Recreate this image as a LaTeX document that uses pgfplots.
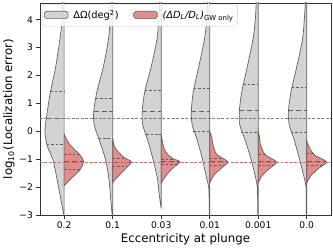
\documentclass[border=0pt]{standalone}
\usepackage{fontspec}
\setmainfont{DejaVu Sans}
\usepackage{pgfplots}
\pgfplotsset{compat=1.18}
\definecolor{vgrey}{RGB}{211,211,211}
\definecolor{vred}{RGB}{226,141,141}
\definecolor{edge}{RGB}{95,95,95}
\begin{document}
\begin{tikzpicture}
\begin{axis}[
 scale only axis, width=295bp, height=215bp,
 xmin=-0.5, xmax=5.5, ymin=-3, ymax=4.6,
 xtick={0,...,5}, xticklabels={0.2,0.1,0.03,0.01,0.001,0.0},
 ytick={-3,...,4}, yticklabels={−3,−2,−1,0,1,2,3,4},
 tick align=outside, tick pos=left, major tick length=3.5bp,
 tick style={black!80, line width=0.6pt},
 ticklabel style={font=\fontsize{9.3}{10}\selectfont},
 xlabel={Eccentricity at plunge},
 ylabel={log\textsubscript{10}(Localization error)},
 label style={font=\fontsize{12}{14}\selectfont},
 xlabel style={yshift=2bp},
 ylabel style={yshift=-2bp},
 axis line style={line width=0.6pt, black!80},
 no markers,
 legend columns=2,
 legend cell align=left,
 legend style={at={(0.007,0.995)}, anchor=north west, draw=black!20, rounded corners=2pt,
   fill=white, fill opacity=0.8, text opacity=1, draw opacity=1,
   font=\fontsize{10}{12}\selectfont, inner xsep=2bp, inner ysep=4bp,
   /tikz/every odd column/.append style={column sep=3bp},
   /tikz/every even column/.append style={column sep=13bp}},
]
% legend entries
\addlegendimage{legend image code/.code={\draw[fill=vgrey,draw=edge,line width=0.6pt,fill opacity=1] (0bp,-3.5bp) rectangle (24bp,4bp);}}
\addlegendentry{ΔΩ(deg\textsuperscript{2})}
\addlegendimage{legend image code/.code={\draw[fill=vred,draw=edge,line width=0.6pt,fill opacity=1] (0bp,-3.5bp) rectangle (24bp,4bp);}}
\addlegendentry{{\itshape (ΔD\textsubscript{L}/D\textsubscript{L})}\textsubscript{GW only}}

% grey halves
\addplot[fill=vgrey, draw=edge, line width=0.7pt, smooth, forget plot] coordinates {(0,5.0) (-0.025,5.0) (-0.030,4.6) (-0.041,4.0) (-0.087,3.3) (-0.176,2.3) (-0.284,1.4) (-0.365,0.5) (-0.396,0.0) (-0.352,-0.5) (-0.235,-1.0) (-0.17,-1.5) (-0.115,-2.0) (-0.06,-2.5) (-0.006,-3.0) (0,-3.05)} -- cycle;
\addplot[fill=vgrey, draw=edge, line width=0.7pt, smooth, forget plot] coordinates {(1,5.0) (0.975,5.0) (0.970,4.6) (0.949,4.0) (0.913,3.3) (0.811,2.34) (0.675,1.42) (0.609,0.7) (0.621,0.22) (0.710,-0.24) (0.844,-0.95) (0.919,-1.65) (0.959,-2.4) (0.990,-3.0) (1,-3.05)} -- cycle;
\addplot[fill=vgrey, draw=edge, line width=0.7pt, smooth, forget plot] coordinates {(2,5.0) (1.975,5.0) (1.970,4.6) (1.949,4.0) (1.913,3.3) (1.797,2.34) (1.661,1.42) (1.609,0.7) (1.621,0.22) (1.710,-0.24) (1.824,-0.95) (1.919,-1.65) (1.959,-2.25) (1.994,-2.7) (2,-2.72)} -- cycle;
\addplot[fill=vgrey, draw=edge, line width=0.7pt, smooth, forget plot] coordinates {(3,5.0) (2.97,5.0) (2.959,4.6) (2.939,4.0) (2.892,3.3) (2.777,2.34) (2.661,1.42) (2.621,0.7) (2.641,0.22) (2.730,-0.24) (2.844,-0.95) (2.933,-1.65) (2.980,-2.0) (2.988,-2.5) (2.990,-3.0) (3,-3.05)} -- cycle;
\addplot[fill=vgrey, draw=edge, line width=0.7pt, smooth, forget plot] coordinates {(4,5.0) (3.97,5.0) (3.959,4.6) (3.939,4.0) (3.892,3.3) (3.777,2.34) (3.661,1.42) (3.609,0.7) (3.621,0.22) (3.716,-0.24) (3.844,-0.95) (3.945,-1.65) (3.980,-2.0) (3.988,-2.5) (3.990,-3.0) (4,-3.05)} -- cycle;
\addplot[fill=vgrey, draw=edge, line width=0.7pt, smooth, forget plot] coordinates {(5,5.0) (4.975,5.0) (4.970,4.6) (4.949,4.0) (4.913,3.3) (4.797,2.34) (4.675,1.42) (4.621,0.7) (4.641,0.22) (4.730,-0.24) (4.844,-0.95) (4.945,-1.65) (4.986,-2.0) (4.990,-2.5) (4.990,-3.0) (5,-3.05)} -- cycle;

% red halves
\addplot[fill=vred, draw=edge, line width=0.7pt, smooth, forget plot] coordinates {(0,-0.1) (0.04,-0.25) (0.115,-0.47) (0.318,-0.83) (0.40,-1.07) (0.318,-1.4) (0.136,-1.7) (0.04,-1.88) (0,-1.95)} -- cycle;
\addplot[fill=vred, draw=edge, line width=0.7pt, smooth, forget plot] coordinates {(1,-0.24) (1.03,-0.5) (1.095,-0.7) (1.249,-0.95) (1.385,-1.09) (1.284,-1.3) (1.148,-1.55) (1.026,-1.77) (1,-1.85)} -- cycle;
\addplot[fill=vred, draw=edge, line width=0.7pt, smooth, forget plot] coordinates {(2,-0.12) (2.03,-0.4) (2.081,-0.7) (2.217,-0.95) (2.385,-1.09) (2.249,-1.3) (2.116,-1.55) (2.026,-1.77) (2,-1.85)} -- cycle;
\addplot[fill=vred, draw=edge, line width=0.7pt, smooth, forget plot] coordinates {(3,0.0) (3.047,-0.24) (3.067,-0.48) (3.148,-0.83) (3.371,-1.09) (3.249,-1.3) (3.095,-1.55) (3.020,-1.77) (3,-1.85)} -- cycle;
\addplot[fill=vred, draw=edge, line width=0.7pt, smooth, forget plot] coordinates {(4,0.0) (4.03,-0.24) (4.047,-0.48) (4.142,-0.83) (4.375,-1.09) (4.254,-1.3) (4.095,-1.55) (4.020,-1.77) (4,-1.85)} -- cycle;
\addplot[fill=vred, draw=edge, line width=0.7pt, smooth, forget plot] coordinates {(5,-0.35) (5.061,-0.6) (5.162,-0.85) (5.406,-1.09) (5.264,-1.3) (5.101,-1.55) (5.020,-1.77) (5,-1.85)} -- cycle;

% quartile lines (grey)
\pgfplotsset{qline/.style={edge, line width=0.7pt, dash pattern=on 2.5bp off 2bp, forget plot},
             mline/.style={edge, line width=0.7pt, dash pattern=on 5bp off 3bp, forget plot}}
\addplot[qline] coordinates {(-0.28,1.43) (0,1.43)};
\addplot[mline] coordinates {(-0.37,0.45) (0,0.45)};
\addplot[qline] coordinates {(-0.355,-0.48) (0,-0.48)};
\addplot[qline] coordinates {(0.655,1.2) (1,1.2)};
\addplot[mline] coordinates {(0.609,0.7) (1,0.7)};
\addplot[qline] coordinates {(0.71,-0.24) (1,-0.24)};
\addplot[qline] coordinates {(1.665,1.47) (2,1.47)};
\addplot[mline] coordinates {(1.609,0.7) (2,0.7)};
\addplot[qline] coordinates {(1.69,-0.12) (2,-0.12)};
\addplot[qline] coordinates {(2.675,1.53) (3,1.53)};
\addplot[mline] coordinates {(2.621,0.7) (3,0.7)};
\addplot[qline] coordinates {(2.66,0.0) (3,0.0)};
\addplot[qline] coordinates {(3.69,1.67) (4,1.67)};
\addplot[mline] coordinates {(3.61,0.75) (4,0.75)};
\addplot[qline] coordinates {(3.645,-0.03) (4,-0.03)};
\addplot[qline] coordinates {(4.69,1.59) (5,1.59)};
\addplot[mline] coordinates {(4.621,0.75) (5,0.75)};
\addplot[qline] coordinates {(4.67,-0.03) (5,-0.03)};
% quartile lines (red)
\addplot[qline] coordinates {(0,-0.83) (0.318,-0.83)};
\addplot[mline] coordinates {(0,-1.09) (0.40,-1.09)};
\addplot[qline] coordinates {(0,-1.36) (0.33,-1.36)};
\addplot[qline] coordinates {(1,-0.95) (1.249,-0.95)};
\addplot[mline] coordinates {(1,-1.1) (1.38,-1.1)};
\addplot[qline] coordinates {(1,-1.24) (1.31,-1.24)};
\addplot[qline] coordinates {(2,-1.0) (2.26,-1.0)};
\addplot[mline] coordinates {(2,-1.09) (2.385,-1.09)};
\addplot[qline] coordinates {(2,-1.18) (2.32,-1.18)};
\addplot[qline] coordinates {(3,-0.97) (3.26,-0.97)};
\addplot[mline] coordinates {(3,-1.09) (3.371,-1.09)};
\addplot[qline] coordinates {(3,-1.22) (3.30,-1.22)};
\addplot[qline] coordinates {(4,-0.81) (4.14,-0.81)};
\addplot[mline] coordinates {(4,-1.09) (4.375,-1.09)};
\addplot[qline] coordinates {(4,-1.22) (4.30,-1.22)};
\addplot[qline] coordinates {(5,-0.8) (5.14,-0.8)};
\addplot[mline] coordinates {(5,-1.09) (5.406,-1.09)};
\addplot[qline] coordinates {(5,-1.22) (5.32,-1.22)};

% reference lines
\addplot[black!50, line width=0.8pt, dash pattern=on 3bp off 1.6bp, forget plot] coordinates {(-0.5,0.45) (5.5,0.45)};
\addplot[red!65, line width=0.8pt, dash pattern=on 3bp off 1.6bp, forget plot] coordinates {(-0.5,-1.1) (5.5,-1.1)};
\end{axis}
\path ([xshift=-35bp,yshift=-30bp]current axis.south west) rectangle ([xshift=2bp,yshift=3bp]current axis.north east);
\end{tikzpicture}
\end{document}
